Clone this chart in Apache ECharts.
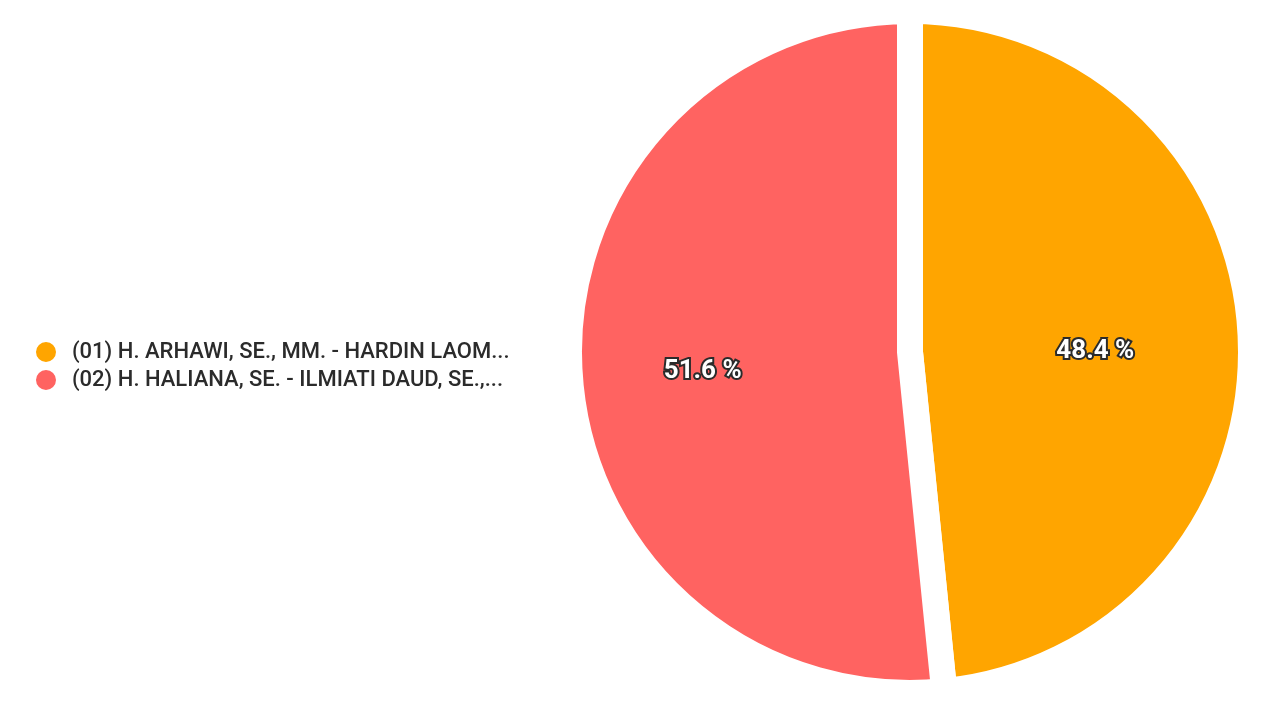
<!DOCTYPE html>
<html>
<head>
<meta charset="utf-8">
<script src="https://cdn.jsdelivr.net/npm/echarts@6/dist/echarts.min.js"></script>
<style>
html,body{margin:0;padding:0;background:#fff;}
#chart{width:1280px;height:720px;}
</style>
</head>
<body>
<div id="chart"></div>
<script>
const categories = [
  "(01) H. ARHAWI, SE., MM. - HARDIN LAOMO, S.Pd., M.Pd.",
  "(02) H. HALIANA, SE. - ILMIATI DAUD, SE., M.Si."
];
const values = [48.4, 51.6];
const colors = ["#ffa500", "#ff6361"];

const labelOffsets = [[12, 8], [-34, 11]];

const chart = echarts.init(document.getElementById('chart'));
chart.setOption({
  backgroundColor: '#ffffff',
  animation: false,
  legend: {
    orient: 'vertical',
    left: 29,
    top: 335,
    icon: 'circle',
    itemWidth: 22,
    itemHeight: 22,
    itemGap: 4,
    textStyle: {
      fontFamily: 'Roboto',
      fontSize: 22,
      fontWeight: 500,
      lineHeight: 22,
      color: '#2b2b2b',
      width: 446,
      overflow: 'truncate',
      ellipsis: '...',
      padding: [0, 0, 0, 10]
    },
    data: categories
  },
  series: [{
    type: 'pie',
    center: [910, 352],
    radius: 341,
    startAngle: 90,
    clockwise: true,
    itemStyle: {
      borderColor: '#ffffff',
      borderWidth: 26
    },
    label: {
      show: true,
      position: 'inside',
      formatter: '{d} %',
      fontFamily: 'Roboto',
      fontSize: 26,
      fontWeight: 'bold',
      color: '#ffffff',
      textBorderColor: '#2b2b2b',
      textBorderWidth: 4
    },
    labelLine: {show: false},
    emphasis: {disabled: true},
    data: categories.map((c, i) => ({
      name: c,
      value: values[i],
      itemStyle: {color: colors[i]},
      label: {offset: labelOffsets[i]}
    }))
  }]
});
</script>
</body>
</html>
